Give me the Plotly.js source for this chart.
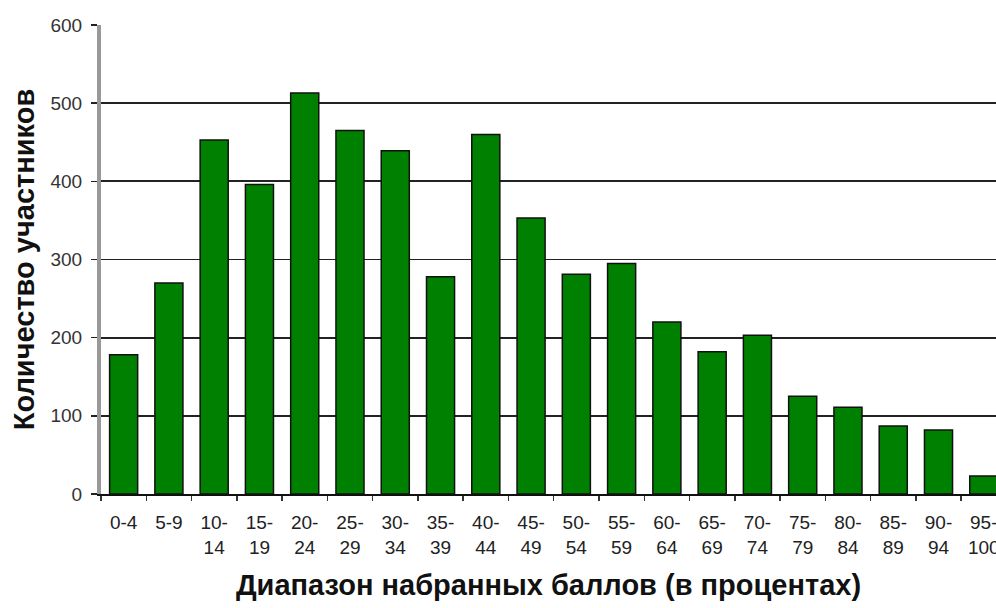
<!DOCTYPE html>
<html>
<head>
<meta charset="utf-8">
<script src="https://cdn.plot.ly/plotly-3.0.1.min.js"></script>
<style>html,body{margin:0;padding:0;background:#fff;}#chart{width:996px;height:608px;}</style>
</head>
<body>
<div id="chart"></div>
<script>
const categories = ["0-4","5-9","10-<br>14","15-<br>19","20-<br>24","25-<br>29","30-<br>34","35-<br>39","40-<br>44","45-<br>49","50-<br>54","55-<br>59","60-<br>64","65-<br>69","70-<br>74","75-<br>79","80-<br>84","85-<br>89","90-<br>94","95-<br>100"];
const counts = [178, 270, 453, 396, 513, 465, 439, 278, 460, 353, 281, 295, 220, 182, 203, 125, 111, 87, 82, 23];
const yTicks = [0, 100, 200, 300, 400, 500, 600];
const xTitle = "Диапазон набранных баллов (в процентах)";
const yTitle = "Количество участников";

const trace = {
  type: "bar",
  x: categories,
  y: counts,
  marker: {color: "#008000", line: {color: "#111", width: 1.5}},
  hoverinfo: "x+y"
};

const layout = {
  width: 996, height: 608,
  margin: {l: 101, r: 0, t: 25, b: 114, pad: 0},
  paper_bgcolor: "#fff", plot_bgcolor: "#fff",
  bargap: 0.38,
  showlegend: false,
  font: {family: "Liberation Sans, Arial, sans-serif", color: "#222"},
  xaxis: {
    type: "category",
    range: [-0.5, 19.27],
    tickson: "boundaries",
    ticks: "outside", ticklen: 5, tickwidth: 1.5, tickcolor: "#333",
    showline: true, linecolor: "#111", linewidth: 2,
    showgrid: false,
    tickangle: 0,
    tickfont: {size: 19, color: "#222"},
    ticklabelstandoff: 10,
    automargin: false,
    title: {text: xTitle, font: {size: 29, color: "#111", family: "Liberation Sans, Arial, sans-serif", weight: "bold"}, standoff: 18}
  },
  yaxis: {
    range: [0, 600],
    tickvals: yTicks,
    ticks: "outside", ticklen: 6, tickcolor: "#222", tickwidth: 1.5,
    showline: true, linecolor: "#999", linewidth: 4,
    showgrid: true, gridcolor: "#222", gridwidth: 1.8,
    zeroline: false,
    automargin: false,
    tickfont: {size: 19, color: "#333"},
    ticklabelstandoff: 5,
    title: {text: yTitle, font: {size: 29, color: "#111", family: "Liberation Sans, Arial, sans-serif", weight: "bold"}, standoff: 8}
  }
};

Plotly.newPlot("chart", [trace], layout, {displayModeBar: false, staticPlot: true});
</script>
</body>
</html>
